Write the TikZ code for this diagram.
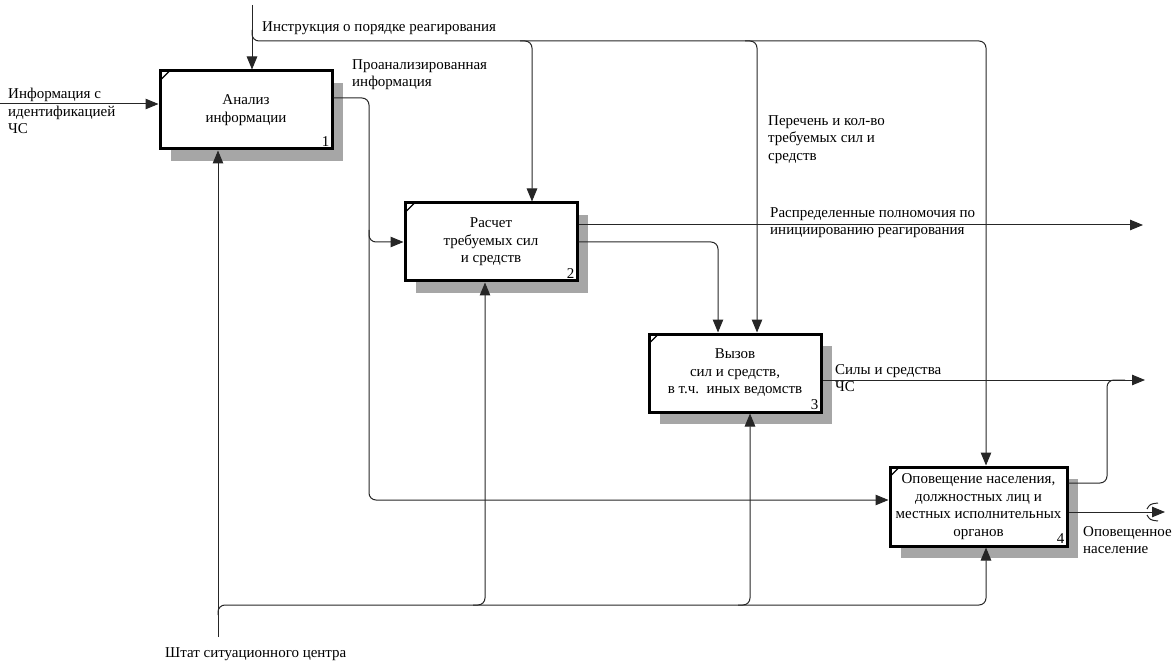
\documentclass[tikz,border=0pt]{standalone}
\usepackage{fontspec}
\setmainfont{Liberation Serif}
\usetikzlibrary{arrows.meta,shadows}

\begin{document}
\begin{tikzpicture}[x=1pt,y=-1pt,
  every node/.style={font=\fontsize{15}{17.5}\selectfont, inner sep=0pt},
  fbox/.style={draw, line width=3pt, fill=white, minimum width=172pt, minimum height=78pt,
    align=center,
    drop shadow={shadow xshift=11pt, shadow yshift=-12pt, fill=black!35, opacity=1}},
  num/.style={anchor=south east},
  lbl/.style={anchor=north west, align=left},
  conn/.style={line width=1pt, draw=black!85},
  arr/.style={conn, -{Triangle[length=13pt,width=10.5pt]}},
  rc/.style={rounded corners=7pt},
  tick/.style={line width=1.3pt}
]
\useasboundingbox (0,0) rectangle (1176,663);

% function boxes
\node[fbox] (b1) at (246,110) {Анализ\\информации};
\node[fbox] (b2) at (491,242) {Расчет\\требуемых сил\\и средств};
\node[fbox] (b3) at (735,373) {Вызов\\сил и средств,\\в т.ч.\ \ иных ведомств};
\node[fbox, minimum width=177pt, minimum height=79pt] (b4) at (978.5,506.5)
  {Оповещение населения,\\должностных лиц и\\местных исполнительных\\органов};

% box numbers
\node[num] (n1) at ([shift={(-4pt,4pt)}]b1.south east) {1};
\node[num] (n2) at ([shift={(-4pt,4pt)}]b2.south east) {2};
\node[num] (n3) at ([shift={(-4pt,4pt)}]b3.south east) {3};
\node[num] (n4) at ([shift={(-4pt,4pt)}]b4.south east) {4};

% corner ticks
\foreach \b in {b1,b2,b3,b4}
  \draw[tick] ([shift={(1.5pt,-11pt)}]\b.north west) -- ([shift={(11pt,-1.5pt)}]\b.north west);

% free ends
\coordinate (in1) at (0,104);
\coordinate (ctl) at (252,5);
\coordinate (mech) at (218,637);
\coordinate (outA) at (1143,225);
\coordinate (outB) at (1145,380);
\coordinate (outC) at (1165,512);

% input
\draw[arr] (in1) -- (in1 -| b1.west);

% controls
\draw[arr] (ctl) -- (ctl |- b1.north);
\draw[arr,rc] (252,30) -- (252,41) -- (986,41) -- (986,41 |- b4.north);
\draw[arr,rc] (520,41) -- (532,41) -- (532,41 |- b2.north);
\draw[arr,rc] (745,41) -- (757,41) -- (757,41 |- b3.north);

% outputs of box 1
\draw[arr,rc] ([yshift=12pt]b1.east) -- (369,98) -- (369,500) -- (369,500 -| b4.west);
\draw[arr,rc] (369,230) -- (369,242) -- (b2.west);

% outputs of box 2
\draw[arr] ([yshift=17pt]b2.east) -- (outA);
\draw[arr,rc] (b2.east) -- (718,242) -- (718,242 |- b3.north);

% outputs of box 3 and box 4
\draw[arr] ([yshift=-7pt]b3.east) -- (outB);
\draw[conn,rc] ([yshift=23.5pt]b4.east) -- (1107,483) -- (1107,380) -- (1125,380);
\draw[arr] ([yshift=-5.5pt]b4.east) -- (outC);
% tunnel brackets
\draw[conn] (1158,503) .. controls (1150,504) .. (1147,509);
\draw[conn] (1147,515) .. controls (1150,520) .. (1158,521);

% mechanisms
\draw[arr] (mech) -- (mech |- b1.south);
\draw[arr,rc] (218,615) -- (218,605) -- (986,605) -- (986,605 |- b4.south);
\draw[arr,rc] (473,605) -- (485,605) -- (485,605 |- b2.south);
\draw[arr,rc] (738,605) -- (750,605) -- (750,605 |- b3.south);

% arrow labels
\node[lbl] (t1) at (8,88) {Информация с\\идентификацией\\ЧС};
\node[lbl] (t2) at (262,21) {Инструкция о порядке реагирования};
\node[lbl] (t3) at (352,59) {Проанализированная\\информация};
\node[lbl] (t4) at (768,115) {Перечень и кол-во\\требуемых сил и\\средств};
\node[lbl] (t5) at (770,207) {Распределенные полномочия по\\инициированию реагирования};
\node[lbl] (t6) at (835,364) {Силы и средства\\ЧС};
\node[lbl] (t7) at (1083,526) {Оповещенное\\население};
\node[lbl] (t8) at (165,647) {Штат ситуационного центра};
\end{tikzpicture}
\end{document}
